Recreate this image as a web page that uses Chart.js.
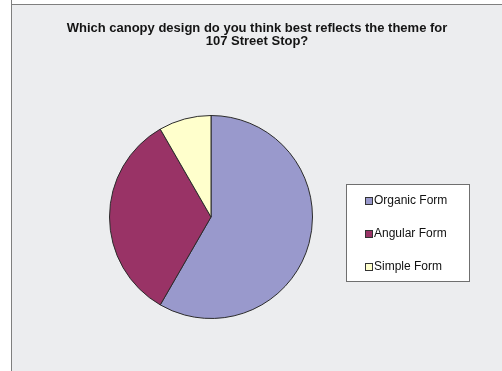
<!DOCTYPE html>
<html>
<head>
<meta charset="utf-8">
<script src="https://cdn.jsdelivr.net/npm/chart.js@4/dist/chart.umd.min.js"></script>
<style>
    html, body { margin: 0; padding: 0; overflow: hidden; background: #ecedef; width: 100%; height: 100%; }
    .strip { position: absolute; background: #ffffff; }
    #leftStrip { left: 0; top: 0; width: 11px; bottom: 0; border-right: 1px solid #7f7f7f; }
    #topStrip { left: 0; top: 0; right: 0; height: 4px; border-bottom: 1px solid #7f7f7f; }
    #wrap { position: absolute; left: 12px; top: 5px; width: 490px; height: 366px; }
</style>
</head>
<body>
<div class="strip" id="topStrip"></div>
<div class="strip" id="leftStrip"></div>
<div id="wrap"><canvas id="canopyChart"></canvas></div>
<script>
// Survey answers (counts)
const categories = ['Organic Form', 'Angular Form', 'Simple Form'];
const votes = [14, 8, 2];
const sliceColors = ['#9999cc', '#993366', '#ffffcc'];
const titleLines = ['Which canopy design do you think best reflects the theme for', '107 Street Stop?'];

// Title centred over the whole frame (the built-in one gets squeezed by the padding)
const frameTitle = {
    id: 'frameTitle',
    afterDraw(chart) {
        const ctx = chart.ctx;
        ctx.save();
        ctx.font = 'bold 13px "Liberation Sans", Arial, sans-serif';
        ctx.fillStyle = '#141414';
        ctx.textAlign = 'center';
        ctx.textBaseline = 'middle';
        titleLines.forEach(function(line, i) {
            ctx.fillText(line, 245, 23 + i * 13);
        });
        ctx.restore();
    }
};

// Boxed legend on the right, drawn like the spreadsheet one
const boxLegend = {
    id: 'boxLegend',
    afterDraw(chart) {
        const ctx = chart.ctx;
        const x = 334, y = 179, w = 123, h = 97;
        ctx.save();
        ctx.fillStyle = '#ffffff';
        ctx.fillRect(x, y, w, h);
        ctx.strokeStyle = '#6f6f6f';
        ctx.lineWidth = 1;
        ctx.strokeRect(x + 0.5, y + 0.5, w, h);
        ctx.font = '12px "Liberation Sans", Arial, sans-serif';
        ctx.textBaseline = 'middle';
        chart.data.labels.forEach(function(label, i) {
            const rowY = 196 + i * 33;
            ctx.fillStyle = chart.data.datasets[0].backgroundColor[i];
            ctx.fillRect(353, rowY - 4, 7, 7);
            ctx.strokeStyle = '#333333';
            ctx.strokeRect(353.5, rowY - 3.5, 7, 7);
            ctx.fillStyle = '#111111';
            ctx.fillText(label, 362, rowY);
        });
        ctx.restore();
    }
};

document.addEventListener('DOMContentLoaded', function() {
    const ctx = document.getElementById('canopyChart').getContext('2d');
    new Chart(ctx, {
        type: 'pie',
        data: {
            labels: categories,
            datasets: [{
                data: votes,
                backgroundColor: sliceColors,
                borderColor: '#2b2b2b',
                borderWidth: 1
            }]
        },
        options: {
            responsive: true,
            maintainAspectRatio: false,
            animation: false,
            layout: {
                padding: { left: 97, right: 189, top: 110, bottom: 52 }
            },
            plugins: {
                legend: { display: false },
                tooltip: { enabled: false },
                title: { display: false }
            }
        },
        plugins: [frameTitle, boxLegend]
    });
});
</script>
</body>
</html>
